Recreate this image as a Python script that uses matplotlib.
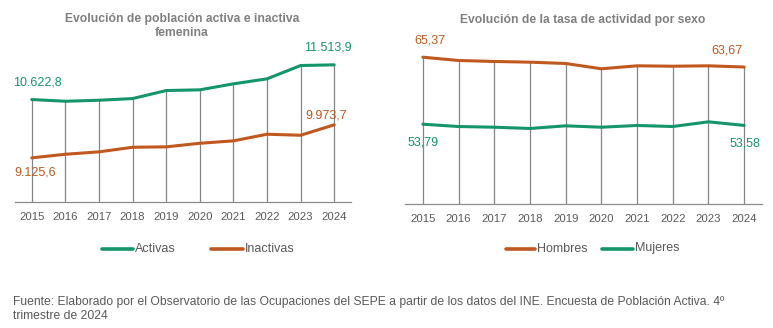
import matplotlib
matplotlib.use("Agg")
import matplotlib.pyplot as plt
from matplotlib.lines import Line2D

years = ["2015", "2016", "2017", "2018", "2019", "2020", "2021", "2022", "2023", "2024"]
activas = [10622.8, 10579, 10605, 10648, 10854, 10872, 11026, 11154, 11496, 11513.9]
inactivas = [9125.6, 9218, 9280, 9398, 9408, 9500, 9562, 9732, 9706, 9973.7]
hombres = [65.37, 64.80, 64.63, 64.51, 64.28, 63.37, 63.88, 63.81, 63.88, 63.67]
mujeres = [53.79, 53.39, 53.27, 53.05, 53.51, 53.27, 53.57, 53.39, 54.20, 53.58]

title_left = "Evolución de población activa e inactiva\nfemenina"
title_right = "Evolución de la tasa de actividad por sexo"
source = ("Fuente: Elaborado por el Observatorio de las Ocupaciones del SEPE a partir de los datos del INE. "
          "Encuesta de Población Activa. 4º\ntrimestre de 2024")

GREEN = "#15956A"
ORANGE = "#C0581F"
GRID = "#858585"
TXT = "#595959"
TITLE = "#7F7F7F"

plt.rcParams['font.family'] = ['Liberation Sans', 'DejaVu Sans']

W, H = 773, 328
fig = plt.figure(figsize=(W / 100, H / 100), dpi=100)


def px_axes(x0, x1, ytop, ybot):
    return fig.add_axes([x0 / W, (H - ybot) / H, (x1 - x0) / W, (ybot - ytop) / H])


def style(ax, ylim, s1, s2):
    x = list(range(len(years)))
    ax.set_xlim(-0.5, len(years) - 0.5)
    ax.set_ylim(*ylim)
    top = [max(a, b) for a, b in zip(s1, s2)]
    ax.vlines(x, ylim[0], top, colors=GRID, linewidth=0.9, zorder=1)
    for sp in ["top", "right", "left"]:
        ax.spines[sp].set_visible(False)
    ax.spines["bottom"].set_color("#8C8C8C")
    ax.spines["bottom"].set_linewidth(0.9)
    ax.set_yticks([])
    ax.set_xticks(x)
    ax.set_xticklabels(years, fontsize=8.2, color=TXT)
    ax.tick_params(axis="x", length=0, pad=7.5)
    ax.patch.set_alpha(0)
    return x


def label(ax, x, y, text, color, dx, dy):
    ax.annotate(text, (x, y), xytext=(dx, -dy), textcoords="offset pixels",
                ha="center", va="center", fontsize=9, color=color)


# Left chart
axL = px_axes(15, 351, 45.9, 201.7)
x = style(axL, (8000, 12000), activas, inactivas)
axL.plot(x, activas, color=GREEN, lw=2.2, solid_capstyle="round", zorder=3)
axL.plot(x, inactivas, color=ORANGE, lw=2.2, solid_capstyle="round", zorder=3)
label(axL, 0, activas[0], "10.622,8", GREEN, 6, -17)
label(axL, 0, inactivas[0], "9.125,6", ORANGE, 3.5, 15)
label(axL, 9, activas[-1], "11.513,9", GREEN, -6.5, -17)
label(axL, 9, inactivas[-1], "9.973,7", ORANGE, -8, -9)

# Right chart
axR = px_axes(405, 762, 30.4, 204)
x = style(axR, (40, 70), hombres, mujeres)
axR.plot(x, hombres, color=ORANGE, lw=2.2, solid_capstyle="round", zorder=3)
axR.plot(x, mujeres, color=GREEN, lw=2.2, solid_capstyle="round", zorder=3)
label(axR, 0, hombres[0], "65,37", ORANGE, 7, -17)
label(axR, 0, mujeres[0], "53,79", GREEN, 0, 18)
label(axR, 9, hombres[-1], "63,67", ORANGE, -17, -17)
label(axR, 9, mujeres[-1], "53,58", GREEN, 1, 18)

# Titles
fig.text(182 / W, 1 - 26 / H, title_left, ha="center", va="center", fontsize=8.7,
         fontweight="bold", color=TITLE, linespacing=1.15)
fig.text(583 / W, 1 - 20 / H, title_right, ha="center", va="center", fontsize=8.7,
         fontweight="bold", color=TITLE)


# Legends
def legend_item(x0, x1, y, color, text):
    fig.add_artist(Line2D([x0 / W, x1 / W], [1 - y / H, 1 - y / H], color=color, lw=2.6,
                          solid_capstyle="round", transform=fig.transFigure))
    fig.text((x1 + 2) / W, 1 - y / H, text, ha="left", va="center", fontsize=9, color=TXT)


legend_item(102, 133, 248.5, GREEN, "Activas")
legend_item(211, 243, 248.5, ORANGE, "Inactivas")
legend_item(506, 535, 248.5, ORANGE, "Hombres")
legend_item(602, 633, 248.5, GREEN, "Mujeres")

fig.text(13 / W, 1 - 309 / H, source, ha="left", va="center", fontsize=8.75,
         color=TXT, family=['Liberation Sans Narrow', 'Liberation Sans', 'DejaVu Sans'],
         linespacing=1.28)

fig.savefig("out.png", dpi=100)
